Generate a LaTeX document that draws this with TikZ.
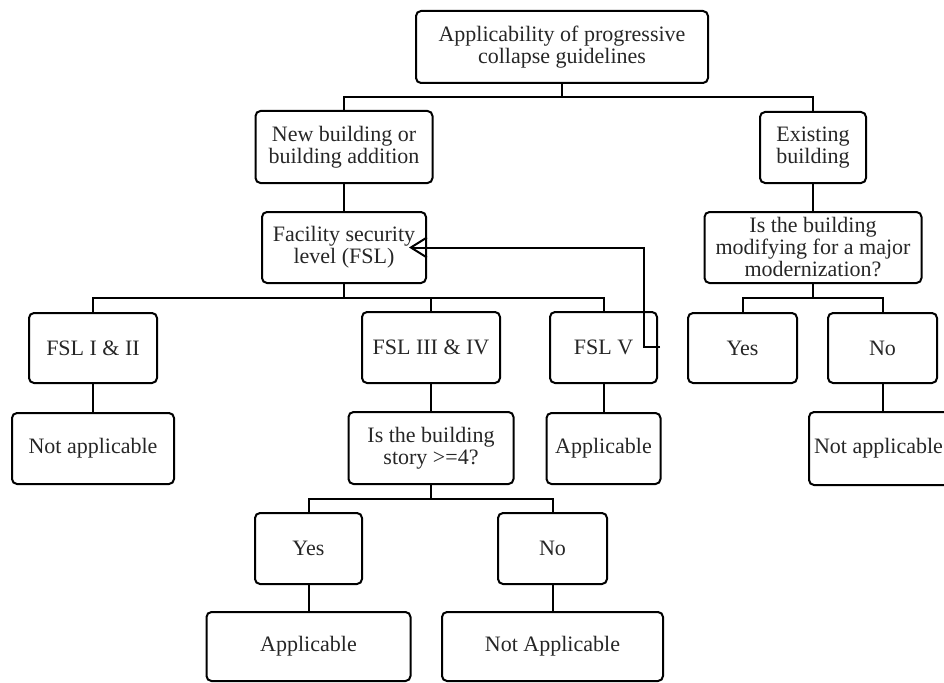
\documentclass[tikz,border=0pt]{standalone}
\usepackage{fontspec}
\setmainfont{Liberation Serif}
\usetikzlibrary{arrows.meta}
\begin{document}
\begin{tikzpicture}[x=1pt,y=-1pt,
  box/.style={draw=black, line width=2pt, rounded corners=5pt, align=center,
    inner sep=0pt, font=\fontsize{22}{22}\selectfont, text=black!85},
  conn/.style={draw=black, line width=2pt},
  fbarrow/.style={draw=black, line width=2pt, -{Straight Barb[length=16pt,width=20pt,line width=2pt]}}]
\useasboundingbox (0,0) rectangle (944,682);
\clip (0,0) rectangle (944,682);
% level 0
\node[box, minimum width=292pt, minimum height=72pt] (top) at (562,47) {Applicability of progressive\\collapse guidelines};
% level 1
\node[box, minimum width=177pt, minimum height=72pt] (new) at (344,147) {New building or\\building addition};
\node[box, minimum width=106pt, minimum height=71pt] (exist) at (813,147.5) {Existing\\building};
% level 2
\node[box, minimum width=164pt, minimum height=71pt] (fsl) at (344,247.5) {Facility security\\level (FSL)};
\node[box, minimum width=217pt, minimum height=71pt] (q2) at (813,247.5) {Is the building\\modifying for a major\\modernization?};
% level 3
\node[box, minimum width=128pt, minimum height=70pt] (f12) at (93,348) {FSL I \& II};
\node[box, minimum width=138pt, minimum height=71pt] (f34) at (431,347.5) {FSL III \& IV};
\node[box, minimum width=107pt, minimum height=71pt] (f5) at (603.5,347.5) {FSL V};
\node[box, minimum width=109pt, minimum height=70pt] (y2) at (742.5,348) {Yes};
\node[box, minimum width=109pt, minimum height=70pt] (n2) at (882.5,348) {No};
% level 4
\node[box, minimum width=162pt, minimum height=71pt] (na1) at (93,448.5) {Not applicable};
\node[box, minimum width=165pt, minimum height=72pt] (q1) at (431,448) {Is the building\\story >=4?};
\node[box, minimum width=114pt, minimum height=71pt] (app1) at (603.5,448.5) {Applicable};
\node[box, minimum width=147pt, minimum height=73pt] (na2) at (882.5,448.5) {\hspace*{-8pt}Not applicable};
% level 5
\node[box, minimum width=107pt, minimum height=71pt] (yes1) at (308.5,548.5) {Yes};
\node[box, minimum width=109pt, minimum height=71pt] (no1) at (552.5,548.5) {No};
% level 6
\node[box, minimum width=204pt, minimum height=69pt] (app2) at (308.5,646.5) {Applicable};
\node[box, minimum width=221pt, minimum height=69pt] (nA) at (552.5,646.5) {Not Applicable};
% connectors
\draw[conn] (top.south) -- (top.south |- 0,97.5) -| (new.north);
\draw[conn] (top.south |- 0,97.5) -| (exist.north);
\draw[conn] (new.south) -- (fsl.north);
\draw[conn] (exist.south) -- (q2.north);
\draw[conn] (fsl.south) -- (fsl.south |- 0,298) -| (f12.north);
\draw[conn] (fsl.south |- 0,298) -| (f34.north);
\draw[conn] (fsl.south |- 0,298) -| (f5.north);
\draw[conn] (q2.south) -- (q2.south |- 0,297.5) -| (y2.north);
\draw[conn] (q2.south |- 0,297.5) -| (n2.north);
\draw[conn] (f12.south) -- (na1.north);
\draw[conn] (f34.south) -- (q1.north);
\draw[conn] (f5.south) -- (app1.north);
\draw[conn] (n2.south) -- (na2.north);
\draw[conn] (q1.south) -- (q1.south |- 0,499) -| (yes1.north);
\draw[conn] (q1.south |- 0,499) -| (no1.north);
\draw[conn] (yes1.south) -- (app2.north);
\draw[conn] (no1.south) -- (nA.north);
% feedback arrow
\coordinate (fb) at (660,347);
\draw[fbarrow] (fb) -- ++(-16,0) |- ([xshift=-18pt]fsl.east);
\end{tikzpicture}
\end{document}
